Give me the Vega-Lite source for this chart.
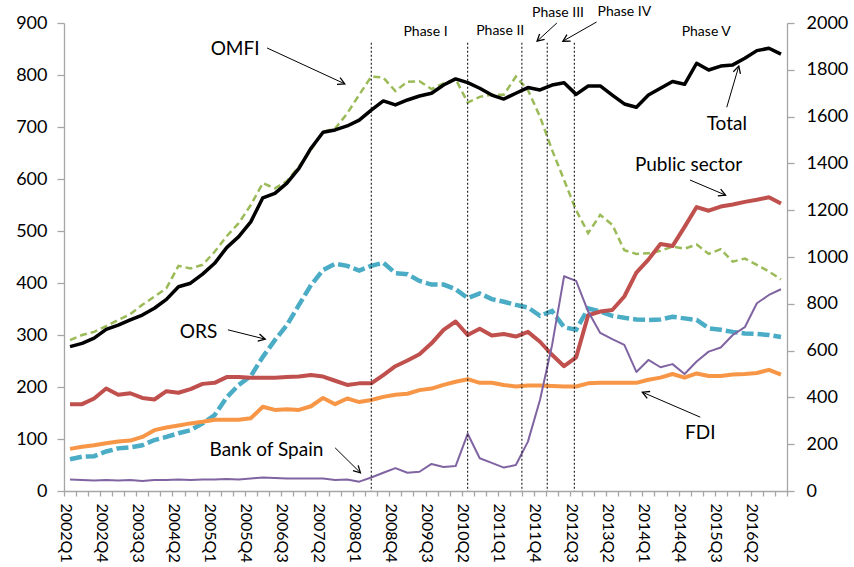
{
  "$schema": "https://vega.github.io/schema/vega-lite/v6.json",
  "width": 723,
  "height": 468,
  "autosize": {"type": "none"},
  "padding": {"left": 64, "top": 23, "right": 67, "bottom": 76},
  "background": "white",
  "config": {
    "view": {"stroke": null},
    "font": "Lato",
    "axis": {"domainColor": "#A6A6A6", "tickColor": "#A6A6A6", "labelColor": "#000000", "labelFont": "Lato", "grid": false, "title": null, "domainWidth": 1.3, "tickWidth": 1.3}
  },
  "datasets": {
    "series": [
      {"i": 0, "q": "2002Q1", "Total": 617, "OMFI": 290, "ORS": 61, "Public": 167, "FDI": 81, "BoS": 22},
      {"i": 1, "q": "2002Q2", "Total": 631, "OMFI": 300, "ORS": 66, "Public": 167, "FDI": 85, "BoS": 21},
      {"i": 2, "q": "2002Q3", "Total": 653, "OMFI": 306, "ORS": 67, "Public": 178, "FDI": 88, "BoS": 20},
      {"i": 3, "q": "2002Q4", "Total": 691, "OMFI": 317, "ORS": 76, "Public": 197, "FDI": 92, "BoS": 21},
      {"i": 4, "q": "2003Q1", "Total": 709, "OMFI": 329, "ORS": 82, "Public": 185, "FDI": 95, "BoS": 20},
      {"i": 5, "q": "2003Q2", "Total": 731, "OMFI": 340, "ORS": 84, "Public": 188, "FDI": 97, "BoS": 21},
      {"i": 6, "q": "2003Q3", "Total": 752, "OMFI": 358, "ORS": 88, "Public": 179, "FDI": 104, "BoS": 19},
      {"i": 7, "q": "2003Q4", "Total": 781, "OMFI": 374, "ORS": 98, "Public": 176, "FDI": 117, "BoS": 21},
      {"i": 8, "q": "2004Q1", "Total": 819, "OMFI": 390, "ORS": 104, "Public": 192, "FDI": 122, "BoS": 21},
      {"i": 9, "q": "2004Q2", "Total": 873, "OMFI": 433, "ORS": 111, "Public": 189, "FDI": 126, "BoS": 22},
      {"i": 10, "q": "2004Q3", "Total": 888, "OMFI": 428, "ORS": 117, "Public": 196, "FDI": 130, "BoS": 21},
      {"i": 11, "q": "2004Q4", "Total": 927, "OMFI": 435, "ORS": 130, "Public": 206, "FDI": 133, "BoS": 22},
      {"i": 12, "q": "2005Q1", "Total": 973, "OMFI": 460, "ORS": 146, "Public": 208, "FDI": 137, "BoS": 22},
      {"i": 13, "q": "2005Q2", "Total": 1040, "OMFI": 490, "ORS": 180, "Public": 219, "FDI": 137, "BoS": 23},
      {"i": 14, "q": "2005Q3", "Total": 1087, "OMFI": 515, "ORS": 204, "Public": 219, "FDI": 137, "BoS": 22},
      {"i": 15, "q": "2005Q4", "Total": 1150, "OMFI": 550, "ORS": 221, "Public": 218, "FDI": 140, "BoS": 24},
      {"i": 16, "q": "2006Q1", "Total": 1253, "OMFI": 592, "ORS": 258, "Public": 218, "FDI": 162, "BoS": 26},
      {"i": 17, "q": "2006Q2", "Total": 1272, "OMFI": 582, "ORS": 290, "Public": 218, "FDI": 156, "BoS": 25},
      {"i": 18, "q": "2006Q3", "Total": 1316, "OMFI": 596, "ORS": 319, "Public": 219, "FDI": 157, "BoS": 24},
      {"i": 19, "q": "2006Q4", "Total": 1379, "OMFI": 624, "ORS": 358, "Public": 220, "FDI": 156, "BoS": 24},
      {"i": 20, "q": "2007Q1", "Total": 1465, "OMFI": 656, "ORS": 396, "Public": 223, "FDI": 163, "BoS": 24},
      {"i": 21, "q": "2007Q2", "Total": 1533, "OMFI": 691, "ORS": 425, "Public": 220, "FDI": 179, "BoS": 24},
      {"i": 22, "q": "2007Q3", "Total": 1543, "OMFI": 697, "ORS": 437, "Public": 212, "FDI": 167, "BoS": 21},
      {"i": 23, "q": "2007Q4", "Total": 1560, "OMFI": 726, "ORS": 433, "Public": 204, "FDI": 178, "BoS": 22},
      {"i": 24, "q": "2008Q1", "Total": 1585, "OMFI": 762, "ORS": 424, "Public": 207, "FDI": 171, "BoS": 18},
      {"i": 25, "q": "2008Q2", "Total": 1628, "OMFI": 797, "ORS": 433, "Public": 207, "FDI": 175, "BoS": 26},
      {"i": 26, "q": "2008Q3", "Total": 1667, "OMFI": 795, "ORS": 439, "Public": 223, "FDI": 181, "BoS": 35},
      {"i": 27, "q": "2008Q4", "Total": 1650, "OMFI": 769, "ORS": 419, "Public": 240, "FDI": 185, "BoS": 44},
      {"i": 28, "q": "2009Q1", "Total": 1671, "OMFI": 787, "ORS": 417, "Public": 251, "FDI": 187, "BoS": 35},
      {"i": 29, "q": "2009Q2", "Total": 1688, "OMFI": 788, "ORS": 404, "Public": 263, "FDI": 194, "BoS": 37},
      {"i": 30, "q": "2009Q3", "Total": 1700, "OMFI": 773, "ORS": 397, "Public": 284, "FDI": 197, "BoS": 52},
      {"i": 31, "q": "2009Q4", "Total": 1735, "OMFI": 784, "ORS": 397, "Public": 310, "FDI": 204, "BoS": 46},
      {"i": 32, "q": "2010Q1", "Total": 1761, "OMFI": 792, "ORS": 388, "Public": 326, "FDI": 210, "BoS": 48},
      {"i": 33, "q": "2010Q2", "Total": 1745, "OMFI": 747, "ORS": 371, "Public": 300, "FDI": 215, "BoS": 110},
      {"i": 34, "q": "2010Q3", "Total": 1721, "OMFI": 758, "ORS": 380, "Public": 312, "FDI": 208, "BoS": 63},
      {"i": 35, "q": "2010Q4", "Total": 1692, "OMFI": 762, "ORS": 369, "Public": 299, "FDI": 208, "BoS": 54},
      {"i": 36, "q": "2011Q1", "Total": 1675, "OMFI": 762, "ORS": 364, "Public": 302, "FDI": 204, "BoS": 45},
      {"i": 37, "q": "2011Q2", "Total": 1700, "OMFI": 797, "ORS": 358, "Public": 297, "FDI": 201, "BoS": 50},
      {"i": 38, "q": "2011Q3", "Total": 1724, "OMFI": 771, "ORS": 353, "Public": 306, "FDI": 203, "BoS": 95},
      {"i": 39, "q": "2011Q4", "Total": 1714, "OMFI": 720, "ORS": 337, "Public": 287, "FDI": 203, "BoS": 175},
      {"i": 40, "q": "2012Q1", "Total": 1735, "OMFI": 656, "ORS": 346, "Public": 262, "FDI": 202, "BoS": 280},
      {"i": 41, "q": "2012Q2", "Total": 1745, "OMFI": 598, "ORS": 315, "Public": 240, "FDI": 201, "BoS": 413},
      {"i": 42, "q": "2012Q3", "Total": 1695, "OMFI": 540, "ORS": 310, "Public": 257, "FDI": 201, "BoS": 404},
      {"i": 43, "q": "2012Q4", "Total": 1731, "OMFI": 496, "ORS": 351, "Public": 338, "FDI": 207, "BoS": 345},
      {"i": 44, "q": "2013Q1", "Total": 1731, "OMFI": 531, "ORS": 345, "Public": 345, "FDI": 208, "BoS": 304},
      {"i": 45, "q": "2013Q2", "Total": 1692, "OMFI": 512, "ORS": 337, "Public": 348, "FDI": 208, "BoS": 292},
      {"i": 46, "q": "2013Q3", "Total": 1654, "OMFI": 463, "ORS": 333, "Public": 374, "FDI": 208, "BoS": 281},
      {"i": 47, "q": "2013Q4", "Total": 1640, "OMFI": 456, "ORS": 330, "Public": 420, "FDI": 208, "BoS": 229},
      {"i": 48, "q": "2014Q1", "Total": 1692, "OMFI": 457, "ORS": 329, "Public": 445, "FDI": 214, "BoS": 252},
      {"i": 49, "q": "2014Q2", "Total": 1721, "OMFI": 462, "ORS": 330, "Public": 475, "FDI": 218, "BoS": 238},
      {"i": 50, "q": "2014Q3", "Total": 1750, "OMFI": 470, "ORS": 335, "Public": 471, "FDI": 225, "BoS": 244},
      {"i": 51, "q": "2014Q4", "Total": 1738, "OMFI": 466, "ORS": 332, "Public": 508, "FDI": 218, "BoS": 225},
      {"i": 52, "q": "2015Q1", "Total": 1828, "OMFI": 474, "ORS": 329, "Public": 546, "FDI": 226, "BoS": 249},
      {"i": 53, "q": "2015Q2", "Total": 1799, "OMFI": 456, "ORS": 313, "Public": 539, "FDI": 221, "BoS": 268},
      {"i": 54, "q": "2015Q3", "Total": 1816, "OMFI": 465, "ORS": 310, "Public": 547, "FDI": 221, "BoS": 276},
      {"i": 55, "q": "2015Q4", "Total": 1821, "OMFI": 441, "ORS": 306, "Public": 551, "FDI": 224, "BoS": 300},
      {"i": 56, "q": "2016Q1", "Total": 1849, "OMFI": 447, "ORS": 303, "Public": 556, "FDI": 225, "BoS": 315},
      {"i": 57, "q": "2016Q2", "Total": 1882, "OMFI": 435, "ORS": 302, "Public": 560, "FDI": 227, "BoS": 361},
      {"i": 58, "q": "2016Q3", "Total": 1892, "OMFI": 422, "ORS": 300, "Public": 565, "FDI": 233, "BoS": 377},
      {"i": 59, "q": "2016Q4", "Total": 1867, "OMFI": 407, "ORS": 296, "Public": 553, "FDI": 224, "BoS": 388}
    ],
    "rules": [
      {"x": 25, "top": 862, "bottom": 0},
      {"x": 33, "top": 862, "bottom": 0},
      {"x": 37.5, "top": 862, "bottom": 0},
      {"x": 39.6, "top": 862, "bottom": 0},
      {"x": 41.85, "top": 862, "bottom": 0}
    ],
    "arrows": [
      {"name": "OMFI", "x1": 16.35, "y1": 852, "x2": 22.8, "y2": 783},
      {"name": "Total", "x1": 54.5, "y1": 738, "x2": 55.5, "y2": 817},
      {"name": "Public sector", "x1": 51.45, "y1": 598, "x2": 54.4, "y2": 569},
      {"name": "ORS", "x1": 13.1, "y1": 310, "x2": 16.2, "y2": 292},
      {"name": "Bank of Spain", "x1": 22.0, "y1": 83, "x2": 24.1, "y2": 35},
      {"name": "FDI", "x1": 52.3, "y1": 142, "x2": 47.5, "y2": 190},
      {"name": "Phase III", "x1": 40.4, "y1": 900, "x2": 38.76, "y2": 865},
      {"name": "Phase IV", "x1": 43.7, "y1": 902, "x2": 40.9, "y2": 865}
    ],
    "notes": [
      {"label": "OMFI", "x": 13.7, "y": 850},
      {"label": "Total", "x": 54.5, "y": 706},
      {"label": "Public sector", "x": 51.33, "y": 627},
      {"label": "ORS", "x": 10.66, "y": 306},
      {"label": "Bank of Spain", "x": 16.3, "y": 79},
      {"label": "FDI", "x": 52.3, "y": 112}
    ],
    "phases": [
      {"label": "Phase I", "x": 29.5, "y": 883},
      {"label": "Phase II", "x": 35.7, "y": 885},
      {"label": "Phase III", "x": 40.5, "y": 919},
      {"label": "Phase IV", "x": 46.0, "y": 921},
      {"label": "Phase V", "x": 52.8, "y": 883}
    ]
  },
  "layer": [
    {
      "layer": [
        {
          "data": {"name": "series"},
          "mark": {"type": "line", "color": "#9BBB59", "strokeWidth": 2.5, "strokeDash": [7, 4]},
          "encoding": {
            "x": {"field": "i", "type": "quantitative", "scale": {"domain": [-0.5, 59.5], "nice": false, "zero": false},
              "axis": {"orient": "bottom", "values": [0,3,6,9,12,15,18,21,24,27,30,33,36,39,42,45,48,51,54,57], "tickCount": 200,
                "labelExpr": "(2002 + floor(datum.value / 4)) + 'Q' + (datum.value % 4 + 1)",
                "labelAngle": 90, "labelAlign": "left", "labelBaseline": "middle", "labelFontSize": 16, "labelPadding": 7, "tickSize": 5, "tickOpacity": 0, "labelOverlap": false, "labelBound": false, "labelFlush": false, "labelOffset": -5}},
            "y": {"field": "OMFI", "type": "quantitative", "scale": {"domain": [0, 900], "nice": false},
              "axis": {"orient": "left", "values": [0,100,200,300,400,500,600,700,800,900], "tickCount": 50, "format": "d", "labelFontSize": 18, "tickSize": 7, "labelPadding": 10}}
          }
        },
        {
          "data": {"name": "series"},
          "mark": {"type": "line", "color": "#4BACC6", "strokeWidth": 4.5, "strokeDash": [12, 4]},
          "encoding": {
            "x": {"field": "i", "type": "quantitative", "scale": {"domain": [-0.5, 59.5], "nice": false, "zero": false}},
            "y": {"field": "ORS", "type": "quantitative", "scale": {"domain": [0, 900], "nice": false}}
          }
        },
        {
          "data": {"name": "series"},
          "mark": {"type": "line", "color": "#C0504D", "strokeWidth": 4, "strokeJoin": "round"},
          "encoding": {
            "x": {"field": "i", "type": "quantitative", "scale": {"domain": [-0.5, 59.5], "nice": false, "zero": false}},
            "y": {"field": "Public", "type": "quantitative", "scale": {"domain": [0, 900], "nice": false}}
          }
        },
        {
          "data": {"name": "series"},
          "mark": {"type": "line", "color": "#F79646", "strokeWidth": 4, "strokeJoin": "round"},
          "encoding": {
            "x": {"field": "i", "type": "quantitative", "scale": {"domain": [-0.5, 59.5], "nice": false, "zero": false}},
            "y": {"field": "FDI", "type": "quantitative", "scale": {"domain": [0, 900], "nice": false}}
          }
        },
        {
          "data": {"name": "series"},
          "mark": {"type": "line", "color": "#8064A2", "strokeWidth": 2, "strokeJoin": "round"},
          "encoding": {
            "x": {"field": "i", "type": "quantitative", "scale": {"domain": [-0.5, 59.5], "nice": false, "zero": false}},
            "y": {"field": "BoS", "type": "quantitative", "scale": {"domain": [0, 900], "nice": false}}
          }
        },
        {
          "data": {"name": "rules"},
          "mark": {"type": "rule", "color": "#000000", "strokeWidth": 1, "strokeDash": [2, 2]},
          "encoding": {
            "x": {"field": "x", "type": "quantitative", "scale": {"domain": [-0.5, 59.5], "nice": false, "zero": false}},
            "y": {"field": "top", "type": "quantitative", "scale": {"domain": [0, 900], "nice": false}},
            "y2": {"field": "bottom"}
          }
        },
        {
          "data": {"name": "arrows"},
          "mark": {"type": "rule", "color": "#000000", "strokeWidth": 1},
          "encoding": {
            "x": {"field": "x1", "type": "quantitative", "scale": {"domain": [-0.5, 59.5], "nice": false, "zero": false}},
            "y": {"field": "y1", "type": "quantitative", "scale": {"domain": [0, 900], "nice": false}},
            "x2": {"field": "x2"},
            "y2": {"field": "y2"}
          }
        },
        {
          "data": {"name": "arrows"},
          "transform": [{"calculate": "atan2((datum.x2 - datum.x1) * 12.05, (datum.y2 - datum.y1) * 0.52) * 180 / PI", "as": "angle"}],
          "mark": {"type": "point", "shape": "M-0.65,1.2L0,0L0.65,1.2", "filled": false, "stroke": "#000000", "strokeWidth": 1.3, "size": 130, "opacity": 1},
          "encoding": {
            "x": {"field": "x2", "type": "quantitative", "scale": {"domain": [-0.5, 59.5], "nice": false, "zero": false}},
            "y": {"field": "y2", "type": "quantitative", "scale": {"domain": [0, 900], "nice": false}},
            "angle": {"field": "angle", "type": "quantitative", "scale": null}
          }
        },
        {
          "data": {"name": "notes"},
          "mark": {"type": "text", "font": "Lato", "fontSize": 19, "color": "#000000", "align": "center", "baseline": "middle"},
          "encoding": {
            "x": {"field": "x", "type": "quantitative", "scale": {"domain": [-0.5, 59.5], "nice": false, "zero": false}},
            "y": {"field": "y", "type": "quantitative", "scale": {"domain": [0, 900], "nice": false}},
            "text": {"field": "label"}
          }
        },
        {
          "data": {"name": "phases"},
          "mark": {"type": "text", "font": "Lato", "fontSize": 14, "color": "#000000", "align": "center", "baseline": "middle"},
          "encoding": {
            "x": {"field": "x", "type": "quantitative", "scale": {"domain": [-0.5, 59.5], "nice": false, "zero": false}},
            "y": {"field": "y", "type": "quantitative", "scale": {"domain": [0, 900], "nice": false}},
            "text": {"field": "label"}
          }
        }
      ]
    },
    {
      "data": {"name": "series"},
      "mark": {"type": "line", "color": "#000000", "strokeWidth": 3.5, "strokeJoin": "round"},
      "encoding": {
        "x": {"field": "i", "type": "quantitative", "scale": {"domain": [-0.5, 59.5], "nice": false, "zero": false},
          "axis": {"orient": "bottom", "values": [-0.5,0.5,1.5,2.5,3.5,4.5,5.5,6.5,7.5,8.5,9.5,10.5,11.5,12.5,13.5,14.5,15.5,16.5,17.5,18.5,19.5,20.5,21.5,22.5,23.5,24.5,25.5,26.5,27.5,28.5,29.5,30.5,31.5,32.5,33.5,34.5,35.5,36.5,37.5,38.5,39.5,40.5,41.5,42.5,43.5,44.5,45.5,46.5,47.5,48.5,49.5,50.5,51.5,52.5,53.5,54.5,55.5,56.5,57.5,58.5,59.5], "tickCount": 200, "labels": false, "domain": false, "tickSize": 5}},
        "y": {"field": "Total", "type": "quantitative", "scale": {"domain": [0, 2000], "nice": false},
          "axis": {"orient": "right", "values": [0,200,400,600,800,1000,1200,1400,1600,1800,2000], "tickCount": 50, "format": "d", "labelFontSize": 18, "tickSize": 7, "labelPadding": 12}}
      }
    }
  ],
  "resolve": {"scale": {"y": "independent"}, "axis": {"x": "independent"}}
}
